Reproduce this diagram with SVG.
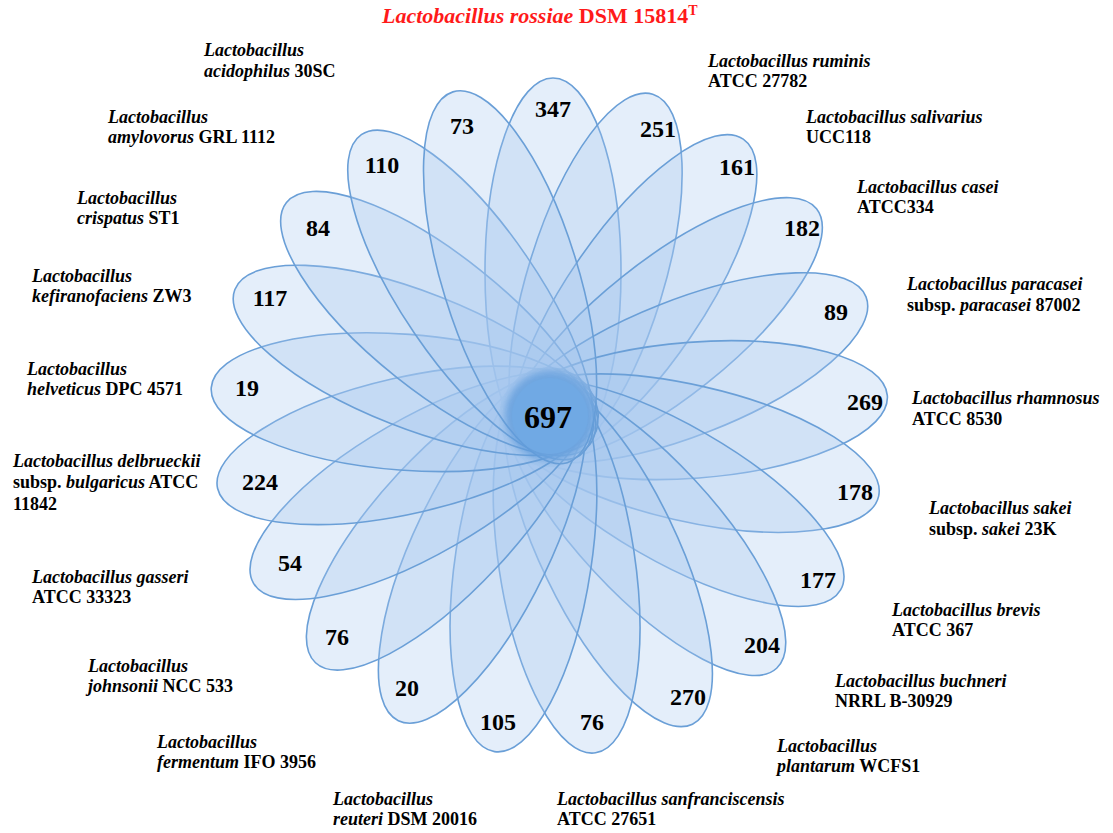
<svg xmlns="http://www.w3.org/2000/svg" width="1113" height="833" viewBox="0 0 1113 833">
<style>
.p{fill:#a6c8ee;fill-opacity:0.3;stroke:#6a9fd7;stroke-width:1.6}
.n{font-family:"Liberation Serif","Times New Roman",serif;font-weight:bold;font-size:24px;fill:#000;text-anchor:middle}
.l{font-family:"Liberation Serif","Times New Roman",serif;font-weight:bold;font-size:18px;fill:#000}
.i{font-style:italic}
.t{font-family:"Liberation Serif","Times New Roman",serif;font-weight:bold;font-size:22px;fill:#ff1a1a}
</style>
<defs>
<filter id="glow" x="-50%" y="-50%" width="200%" height="200%"><feGaussianBlur stdDeviation="3"/></filter>
</defs>
<rect width="1113" height="833" fill="#fff"/>
<g id="sets" transform="translate(549 417)">
<g id="set-rossiae"><ellipse class="p" cx="4" cy="-145" rx="68" ry="194" transform="rotate(0)"/></g>
<g id="set-ruminis"><ellipse class="p" cx="4" cy="-145" rx="68" ry="194" transform="rotate(17.143)"/></g>
<g id="set-salivarius"><ellipse class="p" cx="4" cy="-145" rx="68" ry="194" transform="rotate(34.286)"/></g>
<g id="set-casei"><ellipse class="p" cx="4" cy="-145" rx="68" ry="194" transform="rotate(51.429)"/></g>
<g id="set-paracasei"><ellipse class="p" cx="4" cy="-145" rx="68" ry="194" transform="rotate(68.571)"/></g>
<g id="set-rhamnosus"><ellipse class="p" cx="4" cy="-145" rx="68" ry="194" transform="rotate(85.714)"/></g>
<g id="set-sakei"><ellipse class="p" cx="4" cy="-145" rx="68" ry="194" transform="rotate(102.857)"/></g>
<g id="set-brevis"><ellipse class="p" cx="4" cy="-145" rx="68" ry="194" transform="rotate(120)"/></g>
<g id="set-buchneri"><ellipse class="p" cx="4" cy="-145" rx="68" ry="194" transform="rotate(137.143)"/></g>
<g id="set-plantarum"><ellipse class="p" cx="4" cy="-145" rx="68" ry="194" transform="rotate(154.286)"/></g>
<g id="set-sanfranciscensis"><ellipse class="p" cx="4" cy="-145" rx="68" ry="194" transform="rotate(171.429)"/></g>
<g id="set-reuteri"><ellipse class="p" cx="4" cy="-145" rx="68" ry="194" transform="rotate(188.571)"/></g>
<g id="set-fermentum"><ellipse class="p" cx="4" cy="-145" rx="68" ry="194" transform="rotate(205.714)"/></g>
<g id="set-johnsonii"><ellipse class="p" cx="4" cy="-145" rx="68" ry="194" transform="rotate(222.857)"/></g>
<g id="set-gasseri"><ellipse class="p" cx="4" cy="-145" rx="68" ry="194" transform="rotate(240)"/></g>
<g id="set-delbrueckii"><ellipse class="p" cx="4" cy="-145" rx="68" ry="194" transform="rotate(257.143)"/></g>
<g id="set-helveticus"><ellipse class="p" cx="4" cy="-145" rx="68" ry="194" transform="rotate(274.286)"/></g>
<g id="set-kefiranofaciens"><ellipse class="p" cx="4" cy="-145" rx="68" ry="194" transform="rotate(291.429)"/></g>
<g id="set-crispatus"><ellipse class="p" cx="4" cy="-145" rx="68" ry="194" transform="rotate(308.571)"/></g>
<g id="set-amylovorus"><ellipse class="p" cx="4" cy="-145" rx="68" ry="194" transform="rotate(325.714)"/></g>
<g id="set-acidophilus"><ellipse class="p" cx="4" cy="-145" rx="68" ry="194" transform="rotate(342.857)"/></g>
</g>
<g id="core">
<circle cx="550" cy="416" r="45" fill="#5e9bdb" opacity="0.75" filter="url(#glow)"/>
<circle cx="550" cy="416" r="38" fill="#70a9e4"/>
<text x="548" y="428" class="n" style="font-size:32px">697</text>
</g>
<g id="counts">
<text class="n" x="553" y="117">347</text>
<text class="n" x="658" y="137">251</text>
<text class="n" x="737" y="175">161</text>
<text class="n" x="802" y="236">182</text>
<text class="n" x="836" y="320">89</text>
<text class="n" x="865" y="410">269</text>
<text class="n" x="855" y="500">178</text>
<text class="n" x="818" y="588">177</text>
<text class="n" x="762" y="653">204</text>
<text class="n" x="688" y="705">270</text>
<text class="n" x="592" y="730">76</text>
<text class="n" x="498" y="730">105</text>
<text class="n" x="407" y="696">20</text>
<text class="n" x="337" y="645">76</text>
<text class="n" x="290" y="571">54</text>
<text class="n" x="260" y="490">224</text>
<text class="n" x="247" y="396">19</text>
<text class="n" x="270" y="306">117</text>
<text class="n" x="318" y="236">84</text>
<text class="n" x="382" y="173">110</text>
<text class="n" x="462" y="134">73</text>
</g>
<g id="labels">
<text class="t" x="382" y="23"><tspan class="i">Lactobacillus rossiae</tspan> DSM 15814<tspan dy="-8" style="font-size:14px">T</tspan></text>
<text class="l" x="708" y="67"><tspan class="i">Lactobacillus ruminis</tspan><tspan x="708" dy="20">ATCC 27782</tspan></text>
<text class="l" x="806" y="123"><tspan class="i">Lactobacillus salivarius</tspan><tspan x="806" dy="20">UCC118</tspan></text>
<text class="l" x="857" y="193"><tspan class="i">Lactobacillus casei</tspan><tspan x="857" dy="20">ATCC334</tspan></text>
<text class="l" x="907" y="290"><tspan class="i">Lactobacillus paracasei</tspan><tspan x="907" dy="21">subsp. <tspan class="i">paracasei</tspan> 87002</tspan></text>
<text class="l" x="912" y="404"><tspan class="i">Lactobacillus rhamnosus</tspan><tspan x="912" dy="21">ATCC 8530</tspan></text>
<text class="l" x="929" y="514"><tspan class="i">Lactobacillus sakei</tspan><tspan x="929" dy="21">subsp. <tspan class="i">sakei</tspan> 23K</tspan></text>
<text class="l" x="892" y="616"><tspan class="i">Lactobacillus brevis</tspan><tspan x="892" dy="20">ATCC 367</tspan></text>
<text class="l" x="835" y="687"><tspan class="i">Lactobacillus buchneri</tspan><tspan x="835" dy="20">NRRL B-30929</tspan></text>
<text class="l" x="777" y="752"><tspan class="i">Lactobacillus</tspan><tspan x="777" dy="20"><tspan class="i">plantarum</tspan> WCFS1</tspan></text>
<text class="l" x="557" y="805"><tspan class="i">Lactobacillus sanfranciscensis</tspan><tspan x="557" dy="20">ATCC 27651</tspan></text>
<text class="l" x="333" y="805"><tspan class="i">Lactobacillus</tspan><tspan x="333" dy="20"><tspan class="i">reuteri</tspan> DSM 20016</tspan></text>
<text class="l" x="157" y="748"><tspan class="i">Lactobacillus</tspan><tspan x="157" dy="20"><tspan class="i">fermentum</tspan> IFO 3956</tspan></text>
<text class="l" x="88" y="672"><tspan class="i">Lactobacillus</tspan><tspan x="88" dy="20"><tspan class="i">johnsonii</tspan> NCC 533</tspan></text>
<text class="l" x="32" y="583"><tspan class="i">Lactobacillus gasseri</tspan><tspan x="32" dy="20">ATCC 33323</tspan></text>
<text class="l" x="13" y="467"><tspan class="i">Lactobacillus delbrueckii</tspan><tspan x="13" dy="21">subsp. <tspan class="i">bulgaricus</tspan> ATCC</tspan><tspan x="13" dy="22">11842</tspan></text>
<text class="l" x="27" y="375"><tspan class="i">Lactobacillus</tspan><tspan x="27" dy="20"><tspan class="i">helveticus</tspan> DPC 4571</tspan></text>
<text class="l" x="32" y="282"><tspan class="i">Lactobacillus</tspan><tspan x="32" dy="20"><tspan class="i">kefiranofaciens</tspan> ZW3</tspan></text>
<text class="l" x="77" y="204"><tspan class="i">Lactobacillus</tspan><tspan x="77" dy="20"><tspan class="i">crispatus</tspan> ST1</tspan></text>
<text class="l" x="108" y="123"><tspan class="i">Lactobacillus</tspan><tspan x="108" dy="20"><tspan class="i">amylovorus</tspan> GRL 1112</tspan></text>
<text class="l" x="204" y="56"><tspan class="i">Lactobacillus</tspan><tspan x="204" dy="21"><tspan class="i">acidophilus</tspan> 30SC</tspan></text>
</g>
</svg>
